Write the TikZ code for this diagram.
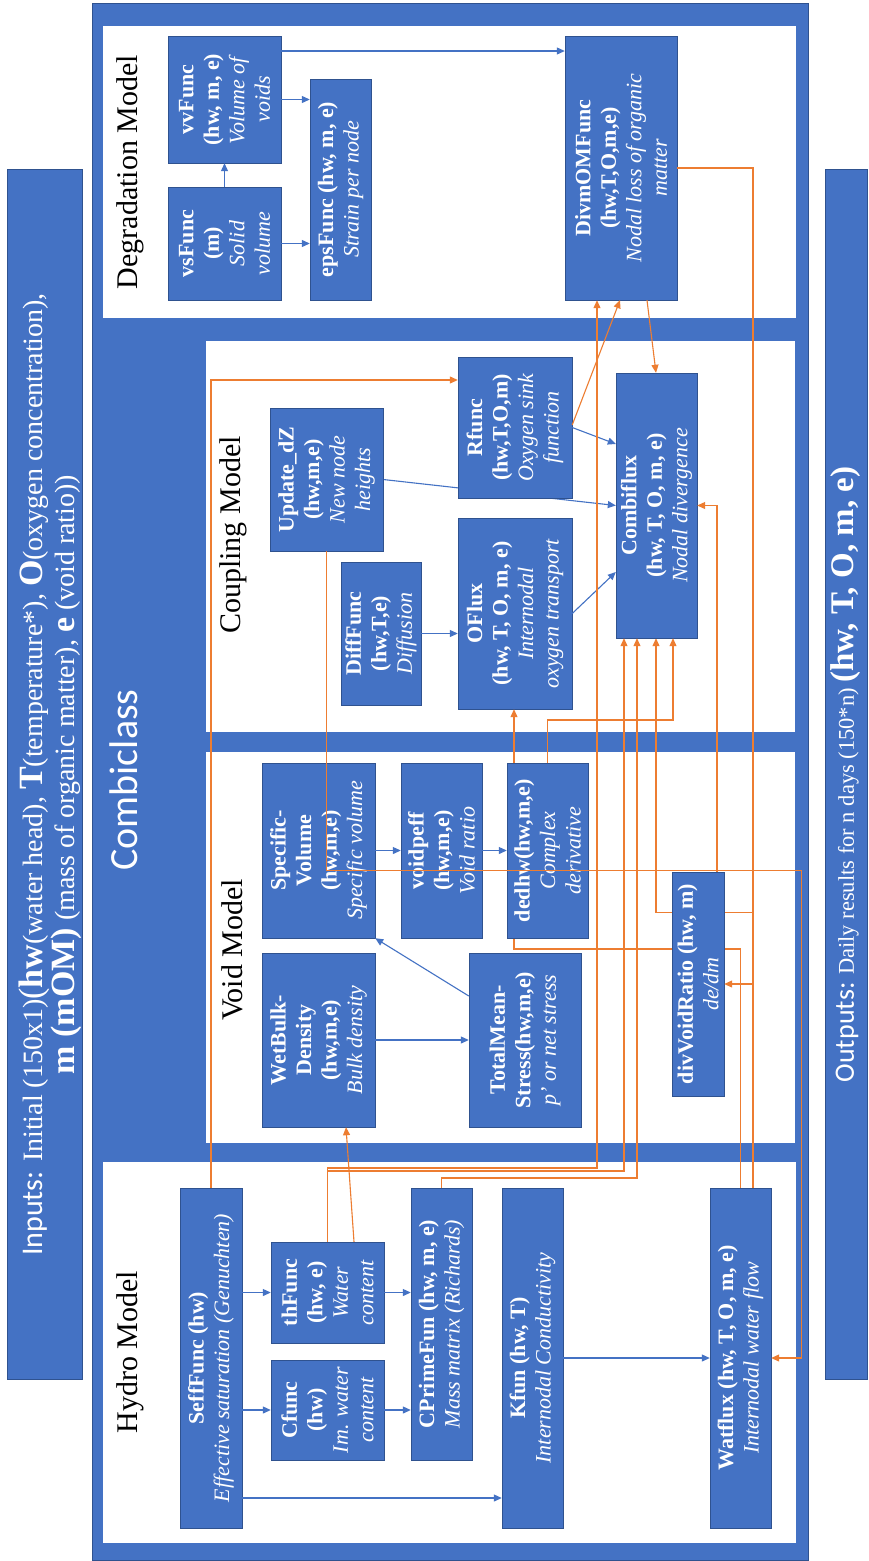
\documentclass[tikz,border=0pt]{standalone}
\usepackage{fontspec}
\setmainfont{Liberation Serif}
\newfontfamily\calib{Carlito}
\usepackage{xcolor}
\usepackage{tikz}
\usetikzlibrary{arrows.meta}

\definecolor{officeblue}{HTML}{4472C4}
\definecolor{darkblue}{HTML}{2F528F}
\definecolor{officeorange}{HTML}{ED7D31}

\newcommand{\funcfont}{\fontsize{22}{25.5}\selectfont}
\newcommand{\iobig}[1]{{\fontsize{34}{27}\selectfont\bfseries #1}}
\newcommand{\iohead}[1]{{\calib\fontsize{30}{27}\selectfont #1}}

\tikzstyle{func} = [rectangle, rotate=90, draw=darkblue, fill=officeblue, text=white, align=center, inner sep=1pt, font=\funcfont]
\tikzstyle{iobar} = [rectangle, rotate=90, draw=darkblue, fill=officeblue, text=white, align=center, inner sep=0pt]
\tikzstyle{panel} = [fill=white]
\tikzstyle{modeltitle} = [rotate=90, font=\fontsize{30}{34}\selectfont]
\tikzstyle{arrow} = [line width=1.1pt, draw=officeblue, -{Triangle[length=8pt,width=7pt]}]
\tikzstyle{orangearrow} = [line width=1.1pt, draw=officeorange, -{Triangle[length=8pt,width=7pt]}]
\tikzstyle{orangeline} = [line width=1.1pt, draw=officeorange]

\pgfdeclarelayer{back}
\pgfdeclarelayer{under}
\pgfsetlayers{back,under,main}

\begin{document}
\begin{tikzpicture}[x=1pt, y=1pt]
		\useasboundingbox (0,0) rectangle (869,-1561);
		
		% Combiclass frame and model panels
		\begin{pgfonlayer}{back}
			\draw[draw=darkblue, fill=officeblue] (92,-3) rectangle (808,-1560);
			\fill[panel] (103,-26) rectangle (796,-318);
			\fill[panel] (206,-341) rectangle (795,-732);
			\fill[panel] (206,-752) rectangle (795,-1143);
			\fill[panel] (103,-1162) rectangle (796,-1543);
		\end{pgfonlayer}
		
		% Inputs and outputs
		\node (inputs) [iobar, minimum width=1210pt, minimum height=75pt] at (44.5,-774.5) {};
		\node (inputtext) [rotate=90, text=white, align=center, inner sep=0pt, font=\fontsize{28}{27}\selectfont] at (50,-774.5) {\iohead{Inputs:} Initial (150x1){\fontsize{34}{27}\selectfont(}\iobig{hw}(water head), \iobig{T}(temperature*), \iobig{O}(oxygen concentration),\\ \iobig{m (mOM)} (mass of organic matter), \iobig{e} (void ratio))};
		\node (outputs) [iobar, minimum width=1210pt, minimum height=42pt, font=\fontsize{22.5}{27}\selectfont] at (846,-774.5) {{\calib\fontsize{28}{27}\selectfont Outputs:} Daily results for n days (150*n) {\fontsize{33}{27}\selectfont\bfseries (hw, T, O, m, e)}};
		
		% Labels
		\node (combilabel) [rotate=90, text=white, font=\calib\fontsize{40}{44}\selectfont] at (124,-780) {Combiclass};
		\node (degrlabel) [modeltitle] at (130,-172) {Degradation Model};
		\node (couplabel) [modeltitle] at (233,-535) {Coupling Model};
		\node (voidlabel) [modeltitle] at (232,-950) {Void Model};
		\node (hydrolabel) [modeltitle] at (130,-1352) {Hydro Model};
		
		% Nodes for degradation model
		\node (vvfunc) [func, minimum width=127pt, minimum height=113pt] at (224.5,-99.5) {\textbf{vvFunc}\\\textbf{(hw, m, e)}\\\textit{Volume of}\\\textit{voids}};
		\node (vsfunc) [func, minimum width=113pt, minimum height=113pt] at (224.5,-243.5) {\textbf{vsFunc}\\\textbf{(m)}\\\textit{Solid}\\\textit{volume}};
		\node (epsfunc) [func, minimum width=221pt, minimum height=61pt] at (340.5,-189.5) {\textbf{epsFunc (hw, m, e)}\\\textit{Strain per node}};
		\node (divmom) [func, minimum width=264pt, minimum height=112pt] at (621,-168) {\textbf{DivmOMFunc}\\\textbf{(hw,T,O,m,e)}\\\textit{Nodal loss of organic}\\\textit{matter}};
		
		% Nodes for coupling model
		\node (updatedz) [func, minimum width=143pt, minimum height=113pt] at (326.5,-479.5) {\textbf{Update\_dZ}\\\textbf{(hw,m,e)}\\\textit{New node}\\\textit{heights}};
		\node (difffunc) [func, minimum width=143pt, minimum height=80pt] at (381,-633.5) {\textbf{DiffFunc}\\\textbf{(hw,T,e)}\\\textit{Diffusion}};
		\node (rfunc) [func, minimum width=141pt, minimum height=114pt] at (515,-427.5) {\textbf{Rfunc}\\\textbf{(hw,T,O,m)}\\\textit{Oxygen sink}\\\textit{function}};
		\node (oflux) [func, minimum width=191pt, minimum height=114pt] at (515,-613.5) {\textbf{OFlux}\\\textbf{(hw, T, O, m, e)}\\\textit{Internodal}\\\textit{oxygen transport}};
		\node (combiflux) [func, minimum width=265pt, minimum height=81pt] at (656.5,-505.5) {\textbf{Combiflux}\\\textbf{(hw, T, O, m, e)}\\\textit{Nodal divergence}};
		
		% Nodes for void model
		\node (specvol) [func, minimum width=175pt, minimum height=113pt] at (318.5,-850.5) {\textbf{Specific-}\\\textbf{Volume}\\\textbf{(hw,m,e)}\\\textit{Specific volume}};
		\node (voidpeff) [func, minimum width=175pt, minimum height=81pt] at (441.5,-850.5) {\textbf{voidpeff}\\\textbf{(hw,m,e)}\\\textit{Void ratio}};
		\node (dedhw) [func, minimum width=175pt, minimum height=81pt] at (547.5,-850.5) {\textbf{dedhw(hw,m,e)}\\\textit{Complex}\\\textit{derivative}};
		\node (wetbulk) [func, minimum width=174pt, minimum height=113pt] at (318.5,-1040) {\textbf{WetBulk-}\\\textbf{Density}\\\textbf{(hw,m,e)}\\\textit{Bulk density}};
		\node (totalmean) [func, minimum width=174pt, minimum height=112pt] at (525,-1040) {\textbf{TotalMean-}\\\textbf{Stress(hw,m,e)}\\\textit{p’ or net stress}};
		\node (divvoid) [func, minimum width=224pt, minimum height=52pt] at (698,-984) {\textbf{divVoidRatio (hw, m)}\\\textit{de/dm}};
		
		% Nodes for hydro model
		\node (sefffunc) [func, minimum width=340pt, minimum height=62pt] at (211,-1358) {\textbf{SeffFunc (hw)}\\\textit{Effective saturation (Genuchten)}};
		\node (thfunc) [func, minimum width=101pt, minimum height=113pt] at (327.5,-1292.5) {\textbf{thFunc}\\\textbf{(hw, e)}\\\textit{Water}\\\textit{content}};
		\node (cfunc) [func, minimum width=100pt, minimum height=113pt] at (327.5,-1410) {\textbf{Cfunc}\\\textbf{(hw)}\\\textit{Im. water}\\\textit{content}};
		\node (cprime) [func, minimum width=272pt, minimum height=61pt] at (441.5,-1324) {\textbf{CPrimeFun (hw, m, e)}\\\textit{Mass matrix (Richards)}};
		\node (kfun) [func, minimum width=340pt, minimum height=61pt] at (532.5,-1358) {\textbf{Kfun (hw, T)}\\\textit{Internodal Conductivity}};
		\node (watflux) [func, minimum width=340pt, minimum height=61pt] at (740.5,-1358) {\textbf{Watflux (hw, T, O, m, e)}\\\textit{Internodal water flow}};
		
		% Arrows for degradation model
		\draw [arrow] (vsfunc) -- (vvfunc);
		\draw [arrow] (vvfunc) -- (vvfunc -| epsfunc.north);
		\draw [arrow] (vsfunc) -- (vsfunc -| epsfunc.north);
		\draw [arrow] (vvfunc.south |- 0,-51) -- (divmom.north |- 0,-51);
		
		% Arrows for coupling model
		\draw [arrow] (difffunc) -- (difffunc -| oflux.north);
		\draw [arrow] (rfunc.south) -- (combiflux.north |- 0,-444);
		\draw [arrow] (oflux.south) -- (combiflux.north |- 0,-572);
		
		% Arrows for void model
		\draw [arrow] (specvol) -- (voidpeff);
		\draw [arrow] (voidpeff) -- (dedhw);
		\draw [arrow] (wetbulk) -- (totalmean);
		\draw [arrow] (totalmean.north |- 0,-996) -- (specvol.south west);
		
		% Arrows for hydro model
		\draw [arrow] (sefffunc.south |- thfunc.north) -- (thfunc.north);
		\draw [arrow] (sefffunc.south |- cfunc.north) -- (cfunc.north);
		\draw [arrow] (thfunc.south) -- (thfunc.south -| cprime.north);
		\draw [arrow] (cfunc.south) -- (cfunc.south -| cprime.north);
		\draw [arrow] (sefffunc.south |- 0,-1498) -- (kfun.north |- 0,-1498);
		\draw [arrow] (kfun) -- (watflux);
		
		% Links that pass behind the boxes
		\begin{pgfonlayer}{under}
			\draw [arrow] (updatedz.south) -- (combiflux.north);
			\draw [orangeline] (watflux.east) -- (watflux.east |- 0,-949) -| (dedhw.west -| 514,0);
			\draw [orangearrow] (watflux.east -| 753,0) -- ++(0,275) -| (combiflux.west -| 656,0);
		\end{pgfonlayer}
		
		% Links between the models
		\draw [orangearrow] (sefffunc.east) |- (rfunc.north |- 0,-380);
		\draw [orangearrow] (thfunc.east -| 354,0) -- (wetbulk.west -| 346,0);
		\draw [orangearrow] (thfunc.east) -- (thfunc.east |- 0,-1168) -| (divmom.west -| 597,0);
		\draw [orangearrow] (thfunc.east) -- (thfunc.east |- 0,-1171) -| (combiflux.west -| 624,0);
		\draw [orangearrow] (cprime.east) -- (cprime.east |- 0,-1178) -| (combiflux.west -| 637,0);
		\draw [orangearrow] (divmom.south) -- (divmom.south -| 753,0) |- (divvoid.south);
		\draw [orangearrow] (divmom.west -| 647,0) -- (combiflux.east -| 656,0);
		\draw [orangearrow] (rfunc.south |- 0,-425) -- (divmom.west -| 620,0);
		\draw [orangearrow] (dedhw.east -| 514,0) -- (oflux.west -| 514,0);
		\draw [orangearrow] (dedhw.east) -- (dedhw.east |- 0,-720) -| (combiflux.west -| 673,0);
		\draw [orangearrow] (divvoid.east -| 717,0) |- (combiflux.south);
		\draw [orangearrow] (updatedz.west) -- ++(0,-319) -| ([xshift=30pt]watflux.south) -- (watflux.south);
		
	\end{tikzpicture}
\end{document}
